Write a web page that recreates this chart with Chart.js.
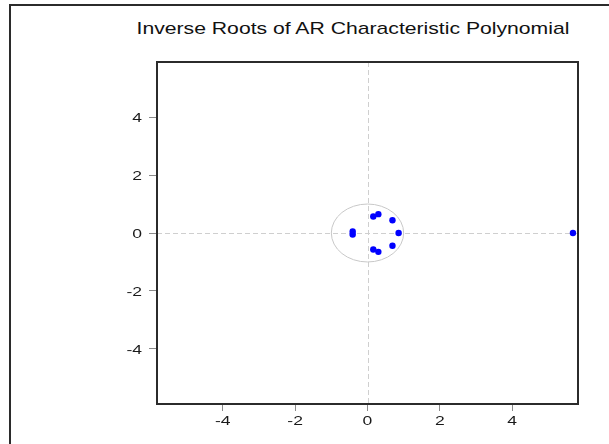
<!DOCTYPE html>
<html>
<head>
<meta charset="utf-8">
<script src="https://cdn.jsdelivr.net/npm/chart.js@4"></script>
<style>
  html, body { margin: 0; padding: 0; background: #fff; }
  #wrap { position: relative; width: 609px; height: 444px; overflow: hidden; }
  #frame {
    position: absolute; left: 9px; top: 4px; width: 620px; height: 460px;
    border-top: 2px solid #2b2b2b; border-left: 2px solid #2b2b2b;
  }
  #title {
    position: absolute; left: 0; width: 706px; top: 19px;
    text-align: center; font: 17px "Liberation Sans", Arial, sans-serif; color: #111;
    white-space: nowrap; transform: scaleX(1.245); transform-origin: 353px 0;
  }
  canvas { position: absolute; left: 0; top: 0; }
</style>
</head>
<body>
<div id="wrap">
  <div id="frame"></div>
  <div id="title">Inverse Roots of AR Characteristic Polynomial</div>
  <canvas id="rootChart" width="609" height="444"></canvas>
</div>
<script>
// inverse roots, real and imaginary parts
const rootRe = [-0.41, -0.41, 0.16, 0.16, 0.30, 0.30, 0.69, 0.69, 0.86, 5.68];
const rootIm = [0.05, -0.05, 0.57, -0.57, 0.65, -0.65, 0.44, -0.44, 0.00, 0.00];

const xTicks = [-4, -2, 0, 2, 4];
const yTicks = [-4, -2, 0, 2, 4];
const xLimits = [-5.82, 5.82];
const yLimits = [-5.9, 5.9];
const unitRadius = 1;

const labelFont = "13px 'Liberation Sans', Arial, sans-serif";
const labelStretch = 1.35;

function drawStretched(ctx, text, x, y, align) {
  ctx.save();
  ctx.translate(x, y);
  ctx.scale(labelStretch, 1);
  ctx.textAlign = align;
  ctx.fillText(text, 0, 0);
  ctx.restore();
}

// unit circle, zero lines, plot frame and (wide) tick labels
const refPlugin = {
  id: "refLines",
  beforeDatasetsDraw(chart) {
    const { ctx, chartArea, scales } = chart;
    const x0 = scales.x.getPixelForValue(0);
    const y0 = scales.y.getPixelForValue(0);
    ctx.save();
    ctx.strokeStyle = "#cfcfcf";
    ctx.lineWidth = 1;
    ctx.setLineDash([5, 3]);
    ctx.beginPath();
    ctx.moveTo(Math.round(x0) + 0.5, chartArea.top);
    ctx.lineTo(Math.round(x0) + 0.5, chartArea.bottom);
    ctx.moveTo(chartArea.left, Math.round(y0) + 0.5);
    ctx.lineTo(chartArea.right, Math.round(y0) + 0.5);
    ctx.stroke();

    ctx.setLineDash([]);
    ctx.strokeStyle = "#c8c8c8";
    const rx = scales.x.getPixelForValue(unitRadius) - x0;
    const ry = y0 - scales.y.getPixelForValue(unitRadius);
    ctx.beginPath();
    ctx.ellipse(x0, y0, rx, ry, 0, 0, Math.PI * 2);
    ctx.stroke();
    ctx.restore();
  },
  afterDatasetsDraw(chart) {
    const { ctx, chartArea, scales } = chart;
    ctx.save();
    ctx.strokeStyle = "#2b2b2b";
    ctx.lineWidth = 2;
    ctx.strokeRect(chartArea.left, chartArea.top,
      chartArea.right - chartArea.left, chartArea.bottom - chartArea.top);

    ctx.font = labelFont;
    ctx.fillStyle = "#1a1a1a";
    ctx.textBaseline = "middle";
    scales.x.ticks.forEach((t) => {
      drawStretched(ctx, String(t.value), scales.x.getPixelForValue(t.value), chartArea.bottom + 17, "center");
    });
    scales.y.ticks.forEach((t) => {
      drawStretched(ctx, String(t.value), chartArea.left - 15, scales.y.getPixelForValue(t.value) + 1, "right");
    });
    ctx.restore();
  },
};

new Chart(document.getElementById("rootChart"), {
  type: "scatter",
  data: {
    datasets: [{
      data: rootRe.map((re, i) => ({ x: re, y: rootIm[i] })),
      backgroundColor: "#0000ff",
      borderColor: "#0000ff",
      pointRadius: 3.2,
      borderWidth: 0,
    }],
  },
  options: {
    responsive: false,
    animation: false,
    layout: { padding: { left: 101, right: 31, top: 62, bottom: 10 } },
    plugins: {
      legend: { display: false },
      tooltip: { enabled: false },
    },
    scales: {
      x: {
        type: "linear",
        min: xLimits[0],
        max: xLimits[1],
        afterBuildTicks: (s) => { s.ticks = xTicks.map(v => ({ value: v })); },
        afterFit: (s) => { s.height = 30; },
        border: { display: false },
        grid: { drawOnChartArea: false, tickLength: 7, color: "#8a8a8a" },
        ticks: { display: false },
      },
      y: {
        type: "linear",
        min: yLimits[0],
        max: yLimits[1],
        afterBuildTicks: (s) => { s.ticks = yTicks.map(v => ({ value: v })); },
        afterFit: (s) => { s.width = 56; },
        border: { display: false },
        grid: { drawOnChartArea: false, tickLength: 8, color: "#8a8a8a" },
        ticks: { display: false },
      },
    },
  },
  plugins: [refPlugin],
});
</script>
</body>
</html>
